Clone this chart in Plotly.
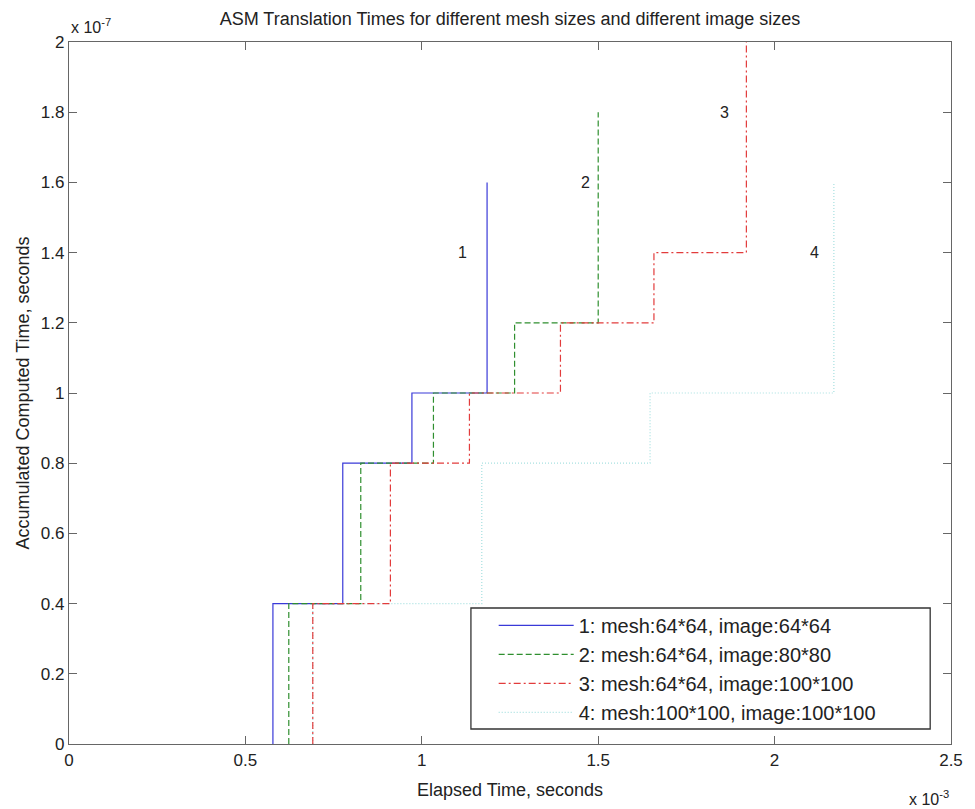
import plotly.graph_objects as go

# Elapsed time in units of 1e-3 s, accumulated computed time in units of 1e-7 s
t1 = [0.578, 0.776, 0.972, 1.185, 1.185]
y1 = [0.0, 0.4, 0.8, 1.0, 1.6]

t2 = [0.623, 0.827, 1.033, 1.263, 1.500, 1.500]
y2 = [0.0, 0.4, 0.8, 1.0, 1.2, 1.8]

t3 = [0.691, 0.911, 1.135, 1.393, 1.658, 1.920, 1.920]
y3 = [0.0, 0.4, 0.8, 1.0, 1.2, 1.4, 2.0]

t4 = [0.691, 1.170, 1.647, 2.168, 2.168]
y4 = [0.0, 0.4, 0.8, 1.0, 1.6]

names = [
    "1: mesh:64*64, image:64*64",
    "2: mesh:64*64, image:80*80",
    "3: mesh:64*64, image:100*100",
    "4: mesh:100*100, image:100*100",
]

label_text = ["1", "2", "3", "4"]
label_x = [1.116, 1.464, 1.859, 2.112]
label_y = [1.40, 1.60, 1.80, 1.40]

x_ticks = [0, 0.5, 1, 1.5, 2, 2.5]
x_tick_text = ["0", "0.5", "1", "1.5", "2", "2.5"]
y_ticks = [0, 0.2, 0.4, 0.6, 0.8, 1.0, 1.2, 1.4, 1.6, 1.8, 2.0]
y_tick_text = ["0", "0.2", "0.4", "0.6", "0.8", "1", "1.2", "1.4", "1.6", "1.8", "2"]

colors = ["#3a3ad8", "#2f8f2f", "#e23c3c", "#a6e0e0"]
dashes = ["solid", "6px,3px", "7px,3px,2px,3px", "1px,2px"]
series = [(t1, y1), (t2, y2), (t3, y3), (t4, y4)]

FONT = "Liberation Sans, Arial, Helvetica, sans-serif"

fig = go.Figure()
# draw series 4 first so it lies beneath the others
for i in [3, 0, 1, 2]:
    tx, ty = series[i]
    fig.add_trace(go.Scatter(
        x=tx, y=ty, mode="lines", name=names[i], line_shape="vh",
        line=dict(color=colors[i], width=1.2, dash=dashes[i]),
        legendrank=i + 1,
    ))

for txt, lx, ly in zip(label_text, label_x, label_y):
    fig.add_annotation(x=lx, y=ly, text=txt, showarrow=False,
                       font=dict(family=FONT, size=16, color="#222"))

# exponent labels
fig.add_annotation(xref="paper", yref="paper", x=0.0, y=1.023, xanchor="left",
                   yanchor="middle", text="x 10<sup>-7</sup>", showarrow=False,
                   font=dict(family=FONT, size=16, color="#222"))
fig.add_annotation(xref="paper", yref="paper", x=1.0, y=-0.077, xanchor="right",
                   yanchor="middle", text="x 10<sup>-3</sup>", showarrow=False,
                   font=dict(family=FONT, size=16, color="#222"))

# legend box
fig.add_shape(type="rect", xref="paper", yref="paper",
              x0=0.4557, x1=0.9764, y0=0.0214, y1=0.1937,
              fillcolor="white", line=dict(color="#333", width=1.3), layer="above")

axis_common = dict(
    showline=True, linecolor="#666", linewidth=1.3, mirror="ticks",
    ticks="inside", ticklen=8, tickcolor="#666", tickwidth=1,
    showgrid=False, zeroline=False,
    tickfont=dict(family=FONT, size=17, color="#222"),
)

fig.update_layout(
    width=975, height=809,
    margin=dict(l=69, r=15, t=42, b=65),
    paper_bgcolor="white", plot_bgcolor="white",
    title=dict(text="ASM Translation Times for different mesh sizes and different image sizes",
               x=0.5, xref="paper", y=1 - 19 / 809, yref="container", yanchor="middle",
               font=dict(family=FONT, size=18, color="#222")),
    xaxis=dict(range=[0, 2.5], tickvals=x_ticks, ticktext=x_tick_text,
               title=dict(text="Elapsed Time, seconds", standoff=14,
                          font=dict(family=FONT, size=18, color="#222")),
               **axis_common),
    yaxis=dict(range=[0, 2.0], tickvals=y_ticks, ticktext=y_tick_text,
               title=dict(text="Accumulated Computed Time, seconds", standoff=6,
                          font=dict(family=FONT, size=18, color="#222")),
               **axis_common),
    legend=dict(x=0.4815, xanchor="left", y=0.107, yanchor="middle",
                bgcolor="rgba(0,0,0,0)", borderwidth=0, itemwidth=75,
                font=dict(family=FONT, size=20, color="#222"),
                traceorder="normal"),
    showlegend=True,
)

fig.write_html("out.html")
